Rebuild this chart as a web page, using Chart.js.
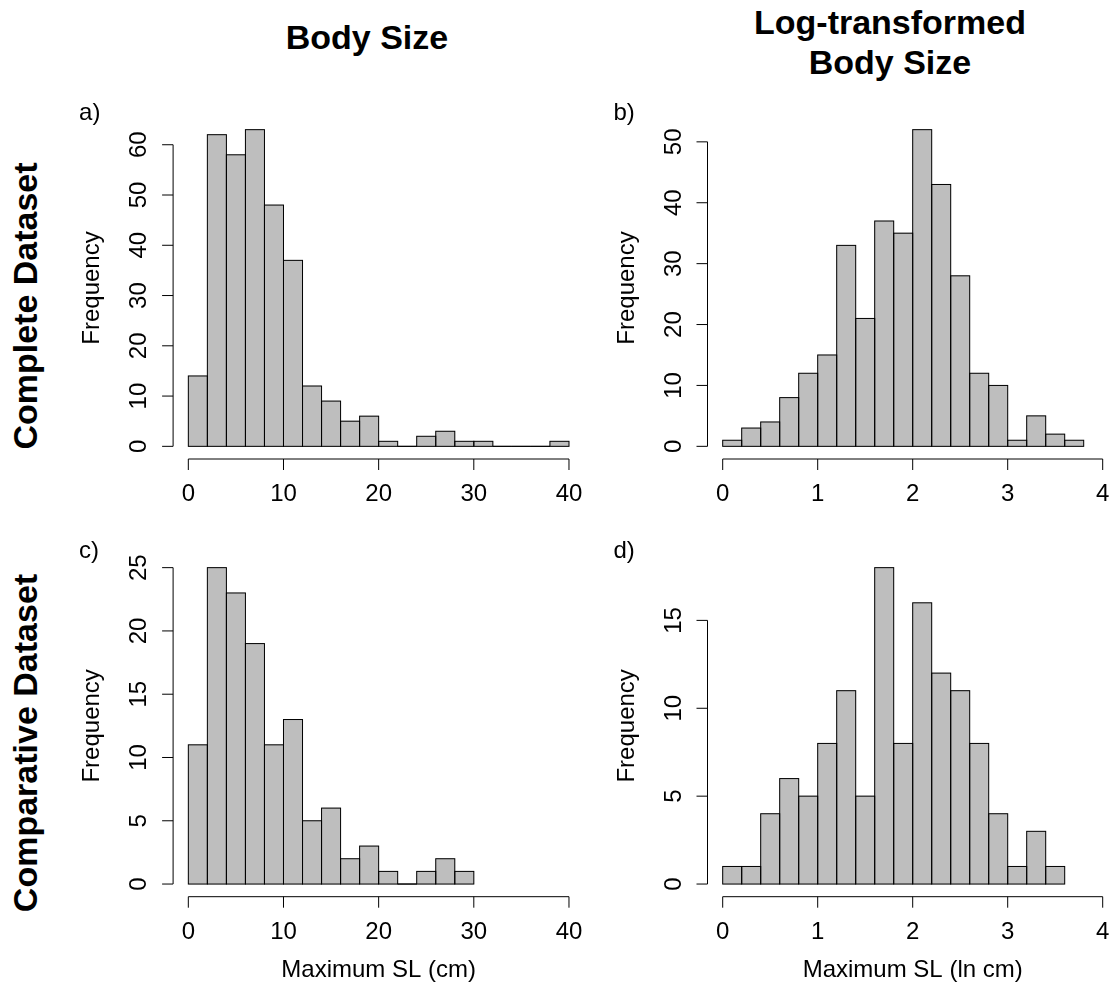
<!DOCTYPE html>
<html>
<head>
<meta charset="utf-8">
<script src="https://cdn.jsdelivr.net/npm/chart.js@4.4.0/dist/chart.umd.min.js"></script>
<style>
  html, body { margin: 0; padding: 0; background: #fff; overflow: hidden; }
  #page { position: relative; width: 1115px; height: 992px; overflow: hidden;
          font-family: "Liberation Sans", Arial, Helvetica, sans-serif; color: #000; }
  canvas.panel { position: absolute; left: 0; top: 0; }
  .title { position: absolute; width: 500px; text-align: center; white-space: nowrap;
           font-weight: bold; font-size: 34px; line-height: 40px; }
  .rowlab { position: absolute; width: 500px; height: 34px; text-align: center; white-space: nowrap;
            font-weight: bold; font-size: 34px; line-height: 34px; transform: rotate(-90deg); }
</style>
</head>
<body>
<div id="page">
  <div class="title" style="left:117px; top:16.5px;">Body Size</div>
  <div class="title" style="left:640px; top:1.5px;">Log-transformed<br>Body Size</div>
  <div class="rowlab" style="left:-224.8px; top:289px;">Complete Dataset</div>
  <div class="rowlab" style="left:-224.8px; top:726px;">Comparative Dataset</div>
  <canvas class="panel" id="pa" width="1120" height="992"></canvas>
  <canvas class="panel" id="pb" width="1120" height="992"></canvas>
  <canvas class="panel" id="pc" width="1120" height="992"></canvas>
  <canvas class="panel" id="pd" width="1120" height="992"></canvas>
</div>
<script>
// left edges of the histogram bins
const sizeBins = [0, 2, 4, 6, 8, 10, 12, 14, 16, 18, 20, 22, 24, 26, 28, 30, 32, 34, 36, 38];
const logBins = [0, 0.2, 0.4, 0.6, 0.8, 1.0, 1.2, 1.4, 1.6, 1.8, 2.0, 2.2, 2.4, 2.6, 2.8, 3.0, 3.2, 3.4, 3.6];

// counts per bin
const completeSize = [14, 62, 58, 63, 48, 37, 12, 9, 5, 6, 1, 0, 2, 3, 1, 1, 0, 0, 0, 1];
const completeLog = [1, 3, 4, 8, 12, 15, 33, 21, 37, 35, 52, 43, 28, 12, 10, 1, 5, 2, 1];
const comparativeSize = [11, 25, 23, 19, 11, 13, 5, 6, 2, 3, 1, 0, 1, 2, 1];
const comparativeLog = [1, 1, 4, 6, 5, 8, 11, 5, 18, 8, 16, 12, 11, 8, 4, 1, 3, 1];

// tick labels
const sizeTicks = [0, 10, 20, 30, 40];
const logTicks = [0, 1, 2, 3, 4];
const completeSizeY = [0, 10, 20, 30, 40, 50, 60];
const completeLogY = [0, 10, 20, 30, 40, 50];
const comparativeSizeY = [0, 5, 10, 15, 20, 25];
const comparativeLogY = [0, 5, 10, 15];

const FONT = '24px "Liberation Sans", Arial, Helvetica, sans-serif';

// R-like look: outlined bars, detached axes, rotated y labels
const rStyle = {
  id: 'rStyle',
  afterDatasetsDraw(chart, args, o) {
    const ctx = chart.ctx;
    const a = chart.chartArea;
    const xs = chart.scales.x, ys = chart.scales.y;
    ctx.save();
    ctx.strokeStyle = '#000';
    ctx.lineWidth = 1;

    chart.getDatasetMeta(0).data.forEach(bar => {
      const p = bar.getProps(['x', 'y', 'base', 'width'], true);
      ctx.strokeRect(p.x - p.width / 2, p.y, p.width, p.base - p.y);
    });

    ctx.fillStyle = '#000';
    ctx.font = FONT;

    // y axis
    const y0 = ys.getPixelForValue(o.yTicks[0]);
    const y1 = ys.getPixelForValue(o.yTicks[o.yTicks.length - 1]);
    ctx.beginPath();
    ctx.moveTo(a.left, y0); ctx.lineTo(a.left, y1);
    o.yTicks.forEach(v => {
      const py = ys.getPixelForValue(v);
      ctx.moveTo(a.left, py); ctx.lineTo(a.left - 11, py);
    });
    ctx.stroke();
    ctx.textAlign = 'center';
    ctx.textBaseline = 'alphabetic';
    o.yTicks.forEach(v => {
      ctx.save();
      ctx.translate(a.left - 27, ys.getPixelForValue(v));
      ctx.rotate(-Math.PI / 2);
      ctx.fillText(String(v), 0, 0);
      ctx.restore();
    });
    ctx.save();
    ctx.translate(a.left - 74, (a.top + a.bottom) / 2);
    ctx.rotate(-Math.PI / 2);
    ctx.fillText('Frequency', 0, 0);
    ctx.restore();

    // x axis
    const x0 = xs.getPixelForValue(o.xTicks[0]);
    const x1 = xs.getPixelForValue(o.xTicks[o.xTicks.length - 1]);
    ctx.beginPath();
    ctx.moveTo(x0, a.bottom); ctx.lineTo(x1, a.bottom);
    o.xTicks.forEach(v => {
      const px = xs.getPixelForValue(v);
      ctx.moveTo(px, a.bottom); ctx.lineTo(px, a.bottom + 11);
    });
    ctx.stroke();
    o.xTicks.forEach(v => {
      ctx.fillText(String(v), xs.getPixelForValue(v), a.bottom + 42);
    });
    if (o.xlab) {
      ctx.fillText(o.xlab, (a.left + a.right) / 2, a.bottom + 80);
    }

    // panel letter
    ctx.textAlign = 'left';
    ctx.fillText(o.letter, a.left - 94, a.top + 3);
    ctx.restore();
  }
};

function makePanel(id, bins, binWidth, counts, xTicks, yTicks, letter, xlab, pad) {
  const xSpan = xTicks[xTicks.length - 1] - xTicks[0];
  const yMax = Math.max(...counts);
  return new Chart(document.getElementById(id), {
    type: 'bar',
    data: {
      datasets: [{
        data: counts.map((c, i) => ({ x: bins[i] + binWidth / 2, y: c })),
        backgroundColor: '#bebebe',
        borderWidth: 0,
        barPercentage: 1,
        categoryPercentage: 1
      }]
    },
    options: {
      responsive: false,
      animation: false,
      devicePixelRatio: 1,
      layout: { padding: pad },
      plugins: {
        legend: { display: false },
        tooltip: { enabled: false },
        rStyle: { xTicks, yTicks, letter, xlab }
      },
      scales: {
        x: {
          type: 'linear',
          display: false,
          offset: false,
          min: xTicks[0] - 0.04 * xSpan,
          max: xTicks[xTicks.length - 1] + 0.04 * xSpan,
          afterBuildTicks: s => { s.ticks = xTicks.map(v => ({ value: v })); }
        },
        y: {
          display: false,
          min: -0.04 * yMax,
          max: 1.04 * yMax,
          afterBuildTicks: s => { s.ticks = yTicks.map(v => ({ value: v })); }
        }
      }
    },
    plugins: [rStyle]
  });
}

const W = 1120, H = 992;
const colL = { left: 173.1, right: W - 584.2 };
const colR = { left: 707.5, right: W - 1117.9 };
const rowT = { top: 117, bottom: H - 459 };
const rowB = { top: 555, bottom: H - 896.7 };

makePanel('pa', sizeBins, 2, completeSize, sizeTicks, completeSizeY, 'a)', null, { ...colL, ...rowT });
makePanel('pb', logBins, 0.2, completeLog, logTicks, completeLogY, 'b)', null, { ...colR, ...rowT });
makePanel('pc', sizeBins, 2, comparativeSize, sizeTicks, comparativeSizeY, 'c)', 'Maximum SL (cm)', { ...colL, ...rowB });
makePanel('pd', logBins, 0.2, comparativeLog, logTicks, comparativeLogY, 'd)', 'Maximum SL (ln cm)', { ...colR, ...rowB });
</script>
</body>
</html>
